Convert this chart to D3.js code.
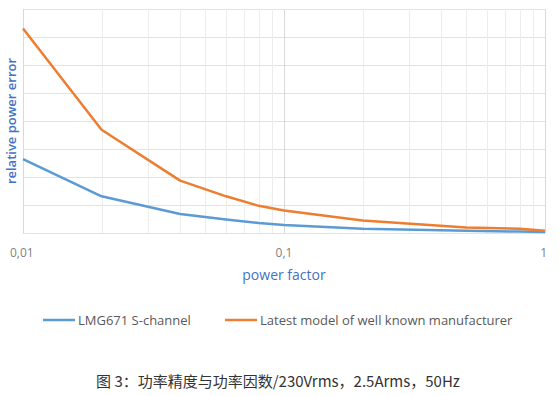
<!DOCTYPE html>
<html>
<head>
<meta charset="utf-8">
<script src="https://cdn.jsdelivr.net/npm/d3@7"></script>
<style>
  body { margin: 0; background: #fff; }
  svg { display: block; }
</style>
</head>
<body>
<svg id="chart" width="559" height="396"></svg>
<script>
// power factor values (x) and relative error readings (no y scale printed in source)
const powerFactor = [0.01, 0.02, 0.04, 0.06, 0.08, 0.1, 0.2, 0.5, 0.8, 1];
const lmgError    = [2.64, 1.31, 0.68, 0.48, 0.36, 0.29, 0.15, 0.08, 0.05, 0.04];
const otherError  = [7.3, 3.69, 1.87, 1.31, 0.97, 0.8, 0.45, 0.2, 0.15, 0.08];
const seriesNames = ["LMG671 S-channel", "Latest model of well known manufacturer"];
const xTicks = [0.01, 0.1, 1];
const xTickLabels = ["0,01", "0,1", "1"];
const caption = "图 3：功率精度与功率因数/230Vrms，2.5Arms，50Hz";

const colors = ["#5b9bd5", "#ed7d31"];
const font = "'Open Sans', sans-serif";

const svg = d3.select("#chart");
const margin = {top: 9, right: 14, bottom: 163, left: 23};
const W = 559, H = 396;

const x = d3.scaleLog()
  .domain([0.01, 1])
  .range([margin.left, W - margin.right]);

const y = d3.scaleLinear()
  .domain([0, 8])
  .range([H - margin.bottom, margin.top]);

// grid
const minor = [];
[0.01, 0.1].forEach(d => { for (let k = 1; k <= 10; k++) minor.push(d * k); });

svg.append("g")
  .selectAll("line")
  .data(d3.range(0, 9))
  .join("line")
  .attr("x1", x.range()[0]).attr("x2", x.range()[1])
  .attr("y1", d => y(d) + 0.5).attr("y2", d => y(d) + 0.5)
  .attr("stroke", "#e3e3e3");

svg.append("g")
  .selectAll("line")
  .data(minor)
  .join("line")
  .attr("x1", d => Math.round(x(d)) + 0.5).attr("x2", d => Math.round(x(d)) + 0.5)
  .attr("y1", y(8)).attr("y2", y(0))
  .attr("stroke", d => xTicks.includes(+d.toFixed(2)) ? "#d9d9d9" : "#ededed");

// x tick labels
svg.append("g")
  .selectAll("text")
  .data(xTicks)
  .join("text")
  .attr("x", d => x(d))
  .attr("y", 257)
  .attr("text-anchor", (d, i) => i === 0 ? "start" : (i === xTicks.length - 1 ? "end" : "middle"))
  .attr("dx", (d, i) => i === 0 ? -13 : (i === xTicks.length - 1 ? 2 : 0))
  .attr("font-family", font)
  .attr("font-size", 12)
  .attr("fill", "#7f7f7f")
  .text((d, i) => xTickLabels[i]);

// axis titles
svg.append("text")
  .attr("x", x(0.1))
  .attr("y", 280)
  .attr("text-anchor", "middle")
  .attr("font-family", font)
  .attr("font-size", 14)
  .attr("fill", "#4472c4")
  .text("power factor");

svg.append("text")
  .attr("transform", `translate(16,${(y(0) + y(8)) / 2}) rotate(-90)`)
  .attr("text-anchor", "middle")
  .attr("font-family", font)
  .attr("font-size", 13)
  .attr("font-weight", 600)
  .attr("fill", "#4472c4")
  .text("relative power error");

// lines
const line = d3.line()
  .x((d, i) => x(powerFactor[i]))
  .y(d => y(d));

[lmgError, otherError].forEach((s, i) => {
  svg.append("path")
    .datum(s)
    .attr("d", line)
    .attr("fill", "none")
    .attr("stroke", colors[i])
    .attr("stroke-width", 2.5)
    .attr("stroke-linejoin", "round");
});

// legend
const legendX = [43, 225];
const leg = svg.append("g")
  .selectAll("g")
  .data(seriesNames)
  .join("g")
  .attr("transform", (d, i) => `translate(${legendX[i]},320)`);

leg.append("line")
  .attr("x1", 0).attr("x2", 32)
  .attr("stroke", (d, i) => colors[i])
  .attr("stroke-width", 2.5);

leg.append("text")
  .attr("x", 35)
  .attr("y", 4.5)
  .attr("font-family", font)
  .attr("font-size", 13)
  .attr("fill", "#595959")
  .text(d => d);

// caption
svg.append("text")
  .attr("x", 278)
  .attr("y", 387)
  .attr("text-anchor", "middle")
  .attr("font-family", "'Noto Sans CJK SC', sans-serif")
  .attr("font-size", 15)
  .attr("fill", "#333")
  .text(caption);
</script>
</body>
</html>
